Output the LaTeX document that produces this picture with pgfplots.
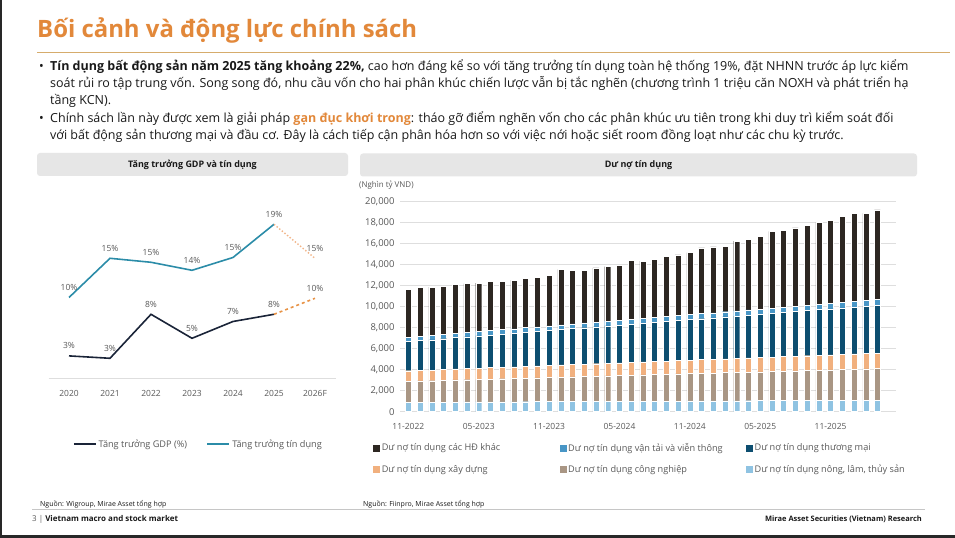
\documentclass[border=0pt]{standalone}
\usepackage{pgfplots}
\usepackage{pgfplotstable}
\pgfplotsset{compat=1.18}
\usepackage{fontspec}
\setmainfont{Open Sans}
\definecolor{cTitle}{RGB}{226,136,58}
\definecolor{cRule}{RGB}{214,172,108}
\definecolor{cFrame}{RGB}{40,40,40}
\definecolor{cBox}{RGB}{230,230,230}
\definecolor{cTick}{RGB}{89,89,89}
\definecolor{cGrid}{RGB}{222,222,222}
\definecolor{cCredit}{RGB}{43,140,168}
\definecolor{cGDP}{RGB}{26,36,56}
\definecolor{cCreditF}{RGB}{242,180,135}
\definecolor{cGDPF}{RGB}{232,147,70}
\definecolor{cKhac}{RGB}{45,39,34}
\definecolor{cVT}{RGB}{72,150,198}
\definecolor{cTM}{RGB}{13,78,112}
\definecolor{cXD}{RGB}{241,176,126}
\definecolor{cCN}{RGB}{169,150,132}
\definecolor{cNong}{RGB}{143,195,226}
\definecolor{cText}{RGB}{25,25,25}

\pgfplotstableread{
i nong cn xd tm vt khac
0 900 2000 1000 2800 410 4540
1 905 2020 1010 2840 415 4685
2 910 2040 1020 2880 415 4610
3 915 2070 1035 2930 420 4600
4 920 2100 1050 2980 420 4690
5 925 2120 1060 3010 425 4650
6 930 2150 1070 3060 430 4615
7 935 2170 1085 3100 430 4725
8 940 2200 1095 3150 435 4565
9 945 2220 1105 3190 435 4645
10 950 2250 1120 3240 440 4730
11 955 2270 1130 3280 445 4685
12 960 2300 1145 3330 445 4805
13 965 2330 1155 3370 450 5285
14 970 2350 1170 3420 450 5070
15 975 2380 1180 3460 455 4980
16 980 2400 1190 3500 460 5155
17 985 2430 1205 3550 460 5180
18 990 2450 1215 3590 465 5260
19 995 2480 1230 3640 465 5575
20 1000 2500 1240 3680 470 5460
21 1005 2530 1250 3720 475 5560
22 1010 2550 1265 3770 475 5695
23 1015 2580 1275 3810 480 5765
24 1020 2600 1290 3860 480 5895
25 1025 2630 1300 3900 485 6250
26 1030 2650 1310 3940 490 6265
27 1035 2680 1325 3990 490 6195
28 1040 2700 1335 4030 495 6655
29 1045 2730 1350 4080 495 6715
30 1050 2750 1360 4120 500 6890
31 1055 2780 1370 4160 505 7305
32 1060 2800 1385 4210 505 7280
33 1065 2830 1395 4250 510 7445
34 1070 2850 1410 4300 510 7640
35 1075 2880 1420 4340 515 7805
36 1080 2900 1430 4380 520 7945
37 1085 2930 1445 4430 520 8195
38 1090 2950 1455 4470 525 8370
39 1095 2980 1470 4520 525 8300
40 1100 3000 1480 4560 530 8540
}\credittable

\begin{document}
\begin{tikzpicture}
\begin{scope}[x=1bp,y=1bp]
\fill[white] (0,0) rectangle (955,538);
\fill[cFrame] (0,0) rectangle (2,538);
\fill[cFrame] (0,0) rectangle (955,2.5);

% header
\node[anchor=base west, inner sep=0, text=cTitle, font=\fontsize{24}{28}\selectfont\bfseries] at (37,500) {Bối cảnh và động lực chính sách};
\draw[cRule, line width=1bp] (37,485) -- (950,485);

\begin{scope}[every node/.style={anchor=base west, inner sep=0, text=cText, font=\fontsize{12.55}{15}\selectfont}]
\node at (39,467) {•};
\node at (50,467) {\textbf{Tín dụng bất động sản năm 2025 tăng khoảng 22\%,} cao hơn đáng kể so với tăng trưởng tín dụng toàn hệ thống 19\%, đặt NHNN trước áp lực kiểm};
\node at (50,450) {soát rủi ro tập trung vốn. Song song đó, nhu cầu vốn cho hai phân khúc chiến lược vẫn bị tắc nghẽn (chương trình 1 triệu căn NOXH và phát triển hạ};
\node at (50,433) {tầng KCN).};
\node at (39,415) {•};
\node at (50,415) {Chính sách lần này được xem là giải pháp \textcolor{cTitle}{\textbf{gạn đục khơi trong}}: tháo gỡ điểm nghẽn vốn cho các phân khúc ưu tiên trong khi duy trì kiểm soát đối};
\node at (50,398) {với bất động sản thương mại và đầu cơ. Đây là cách tiếp cận phân hóa hơn so với việc nới hoặc siết room đồng loạt như các chu kỳ trước.};
\end{scope}

% chart title boxes
\fill[cBox, rounded corners=3bp] (37,362) rectangle (348,385);
\node[font=\fontsize{9}{11}\selectfont\bfseries, text=cText] at (192.5,373.5) {Tăng trưởng GDP và tín dụng};
\fill[cBox, rounded corners=3bp] (360,361.5) rectangle (917,384.5);
\node[font=\fontsize{9}{11}\selectfont\bfseries, text=cText] at (638.5,373) {Dư nợ tín dụng};
\node[anchor=west, inner sep=0, font=\fontsize{8}{10}\selectfont, text=cTick] at (359,353) {(Nghìn tỷ VND)};

% footer
\node[anchor=base west, inner sep=0, font=\fontsize{7}{8}\selectfont, text=cText] at (40,31) {Nguồn: Wigroup, Mirae Asset tổng hợp};
\node[anchor=base west, inner sep=0, font=\fontsize{7}{8}\selectfont, text=cText] at (363,31) {Nguồn: Fiinpro, Mirae Asset tổng hợp};
\draw[gray!45, line width=0.8bp] (32,28.5) -- (925,28.5);
\node[anchor=base west, inner sep=0, font=\fontsize{8}{9}\selectfont, text=cText] at (32,16) {\textcolor{cTick}{3 |} \textbf{Vietnam macro and stock market}};
\node[anchor=base east, inner sep=0, font=\fontsize{7.5}{9}\selectfont\bfseries, text=cText] at (922,16) {Mirae Asset Securities (Vietnam) Research};
\end{scope}

% left chart
\begin{axis}[
  at={(48.5bp,159.7bp)}, anchor=south west, scale only axis,
  width=287bp, height=200bp,
  xmin=-0.5, xmax=6.5, ymin=0, ymax=25,
  axis y line=none, axis x line*=bottom,
  axis line style={draw=cGrid, line width=1.2bp},
  xtick={0,1,2,3,4,5,6},
  xticklabels={2020,2021,2022,2023,2024,2025,2026F},
  major tick length=0,
  xticklabel style={font=\fontsize{8.5}{10}\selectfont, text=cTick, yshift=-9bp},
  clip=false,
  nodes near coords style={font=\fontsize{8.5}{10}\selectfont, text=cTick, anchor=south, yshift=3bp},
  legend columns=2,
  legend style={at={(0.085,-0.3285)}, anchor=west, draw=none, fill=none,
    font=\fontsize{9.2}{11}\selectfont, text=cTick, column sep=0bp,
    inner sep=0pt, cells={anchor=west}},
]
\addlegendimage{legend image code/.code={\draw[cGDP, line width=1.6pt] (0bp,0bp) -- (22bp,0bp);}}
\addlegendentry{\makebox[106bp][l]{Tăng trưởng GDP (\%)}}
\addlegendimage{legend image code/.code={\draw[cCredit, line width=1.6pt] (0bp,0bp) -- (22bp,0bp);}}
\addlegendentry{Tăng trưởng tín dụng}
\addplot[forget plot, cCredit, line width=1.6pt, nodes near coords, point meta=explicit symbolic]
  coordinates {(0,10.1) [10\%] (1,15.0) [15\%] (2,14.5) [15\%] (3,13.5) [14\%] (4,15.1) [15\%] (5,19.25) [19\%]};
\addplot[forget plot, cCreditF, line width=1.4pt, dotted, nodes near coords, point meta=explicit symbolic]
  coordinates {(5,19.25) [] (6,15.0) [15\%]};
\addplot[forget plot, cGDP, line width=1.6pt, nodes near coords, point meta=explicit symbolic]
  coordinates {(0,2.8) [3\%] (1,2.5) [3\%] (2,8.0) [8\%] (3,5.0) [5\%] (4,7.1) [7\%] (5,8.0) [8\%]};
\addplot[forget plot, cGDPF, line width=1.6pt, dashed, nodes near coords, point meta=explicit symbolic]
  coordinates {(5,8.0) [] (6,10.0) [10\%]};
\end{axis}

% right chart
\begin{axis}[
  at={(400bp,126.3bp)}, anchor=south west, scale only axis,
  width=496bp, height=210bp,
  xmin=-0.71, xmax=41.58, ymin=0, ymax=20000,
  ybar stacked, bar width=6bp,
  axis line style={draw=none},
  ymajorgrids, grid style={draw=cGrid, line width=0.6bp},
  ytick={0,2000,4000,6000,8000,10000,12000,14000,16000,18000,20000},
  scaled y ticks=false,
  /pgf/number format/1000 sep={,},
  /pgf/number format/assume math mode=true,
  yticklabel style={font=\fontsize{9.5}{11}\selectfont, text=cTick, xshift=-2bp},
  xtick={0,6,12,18,24,30,36},
  xticklabels={11-2022,05-2023,11-2023,05-2024,11-2024,05-2025,11-2025},
  xticklabel style={font=\fontsize{8.5}{10}\selectfont, text=cTick, yshift=-8bp},
  major tick length=0,
  clip=false,
  legend columns=3,
  legend style={at={(-0.054,-0.14)}, anchor=north west, draw=none, fill=none,
    font=\fontsize{9.2}{11}\selectfont, text=cTick, row sep=8bp, column sep=0bp,
    inner sep=0pt, cells={anchor=west}},
]
\addlegendimage{legend image code/.code={\fill[cKhac] (0bp,-3bp) rectangle (6bp,3bp);}}
\addlegendentry{\makebox[176bp][l]{Dư nợ tín dụng các HĐ khác}}
\addlegendimage{legend image code/.code={\fill[cVT] (0bp,-3bp) rectangle (6bp,3bp);}}
\addlegendentry{\makebox[176bp][l]{Dư nợ tín dụng vận tải và viễn thông}}
\addlegendimage{legend image code/.code={\fill[cTM] (0bp,-3bp) rectangle (6bp,3bp);}}
\addlegendentry{Dư nợ tín dụng thương mại}
\addlegendimage{legend image code/.code={\fill[cXD] (0bp,-3bp) rectangle (6bp,3bp);}}
\addlegendentry{\makebox[176bp][l]{Dư nợ tín dụng xây dựng}}
\addlegendimage{legend image code/.code={\fill[cCN] (0bp,-3bp) rectangle (6bp,3bp);}}
\addlegendentry{\makebox[176bp][l]{Dư nợ tín dụng công nghiệp}}
\addlegendimage{legend image code/.code={\fill[cNong] (0bp,-3bp) rectangle (6bp,3bp);}}
\addlegendentry{Dư nợ tín dụng nông, lâm, thủy sản}
\addplot[forget plot, fill=cNong, draw=white, line width=0.4bp] table[x=i, y=nong] {\credittable};
\addplot[forget plot, fill=cCN, draw=white, line width=0.4bp] table[x=i, y=cn] {\credittable};
\addplot[forget plot, fill=cXD, draw=white, line width=0.4bp] table[x=i, y=xd] {\credittable};
\addplot[forget plot, fill=cTM, draw=white, line width=0.4bp] table[x=i, y=tm] {\credittable};
\addplot[forget plot, fill=cVT, draw=white, line width=0.4bp] table[x=i, y=vt] {\credittable};
\addplot[forget plot, fill=cKhac, draw=white, line width=0.4bp] table[x=i, y=khac] {\credittable};
\end{axis}
\end{tikzpicture}
\end{document}
